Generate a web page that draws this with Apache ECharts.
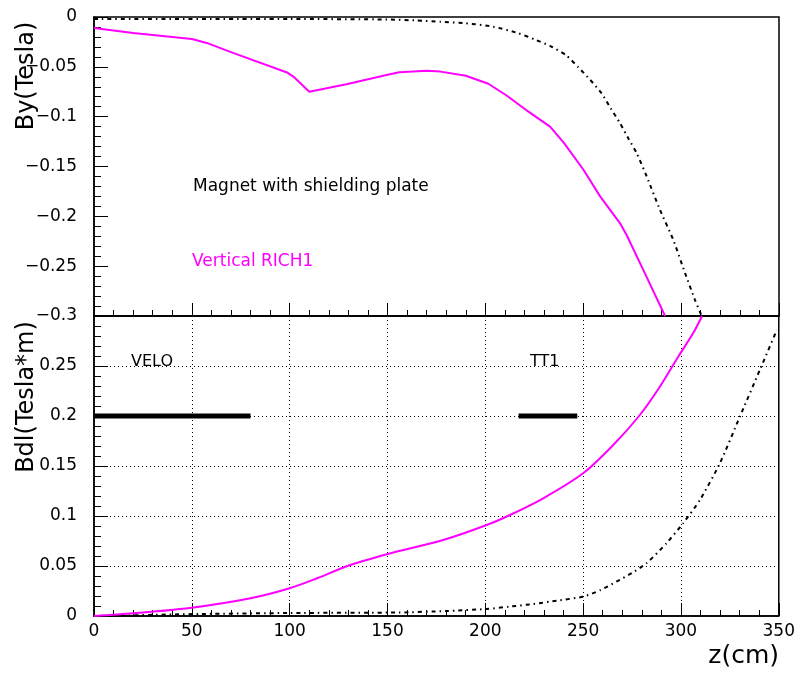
<!DOCTYPE html>
<html>
<head>
<meta charset="utf-8">
<script src="https://cdn.jsdelivr.net/npm/echarts@6/dist/echarts.min.js"></script>
<style>html,body{margin:0;padding:0;background:#fff;}#c{width:798px;height:677px;}</style>
</head>
<body>
<div id="c"></div>
<script>
// ---- data ----
const zTopRich   = [0, 20, 50, 57.6, 71, 99, 102, 110, 129, 150, 156, 170, 177, 190, 201.5, 211, 222, 233, 240, 250, 258.6, 268.8, 272.2, 280.7, 291.8];
const byRich     = [-0.011, -0.016, -0.022, -0.026, -0.036, -0.056, -0.060, -0.075, -0.0675, -0.058, -0.0555, -0.054, -0.0548, -0.059, -0.067, -0.079, -0.095, -0.110, -0.126, -0.153, -0.180, -0.207, -0.219, -0.254, -0.300];
const zTopShield = [0, 100, 150, 165, 177, 190, 204, 217, 225, 233, 241, 247.5, 253.5, 259.4, 264, 268.8, 273, 277.3, 282.4, 289.2, 296, 302, 307.1, 310.5];
const byShield   = [-0.002, -0.002, -0.0025, -0.0035, -0.0047, -0.0063, -0.0097, -0.0164, -0.0224, -0.029, -0.038, -0.0505, -0.063, -0.0766, -0.0916, -0.1067, -0.1217, -0.1367, -0.160, -0.1936, -0.2237, -0.257, -0.284, -0.300];
const zBdlRich   = [0, 20, 50, 80, 100, 114, 131, 156, 178.5, 200.7, 212.6, 229.6, 250, 265.4, 279, 289.2, 298.6, 306.2, 310.8];
const bdlRich    = [0, 0.0027, 0.0083, 0.0177, 0.0277, 0.0377, 0.051, 0.065, 0.076, 0.091, 0.101, 0.1177, 0.1427, 0.171, 0.201, 0.2293, 0.2593, 0.2827, 0.300];
const zBdlShield = [0, 54, 100, 156, 180, 200.7, 212, 224.5, 237, 250, 259, 267, 275, 282.4, 292.6, 301.1, 309.7, 319.9, 330.1, 340.3, 349];
const bdlShield  = [0, 0.002, 0.003, 0.0035, 0.005, 0.007, 0.0093, 0.012, 0.0155, 0.0193, 0.026, 0.0343, 0.043, 0.0527, 0.0727, 0.0927, 0.116, 0.1527, 0.1993, 0.246, 0.286];
const veloRange  = [0, 80];
const tt1Range   = [217, 247];
const detLevel   = 0.2;

const pair = (xs, ys) => xs.map((x, i) => [x, ys[i]]);
const FONT = 'DejaVu Sans';
const MAG = '#ff00ff';

function fmt(v) {
  const r = Math.round(v * 100) / 100;
  if (Math.abs(r) < 1e-9) return '0';
  return String(r).replace('-', '\u2212');
}

function ticks(major, minor) {
  return {
    axisLine: {show: true, onZero: false, lineStyle: {color: '#000', width: 1.5}},
    axisTick: {show: true, inside: true, length: major, lineStyle: {color: '#000', width: 1}},
    minorTick: {show: true, splitNumber: 5, length: minor, lineStyle: {color: '#000', width: 1}}
  };
}
function grid(top, height) {
  return {left: 94, right: 19, top: top, height: height, show: true, borderColor: '#000', borderWidth: 1.5};
}
function dots(col) {
  return {show: true, showMinLine: false, showMaxLine: false, lineStyle: {color: col, type: [1, 3], width: 1}};
}

const chart = echarts.init(document.getElementById('c'));

const option = {
  backgroundColor: '#fff',
  animation: false,
  grid: [grid(17, 299), grid(316, 300)],
  xAxis: [
    Object.assign({type: 'value', gridIndex: 0, min: 0, max: 350, interval: 50, position: 'bottom',
      axisLabel: {show: false}, splitLine: {show: false}}, ticks(13, 6)),
    Object.assign({type: 'value', gridIndex: 1, min: 0, max: 350, interval: 50, position: 'bottom',
      axisLabel: {show: true, color: '#000', fontFamily: FONT, fontSize: 17, margin: 7},
      splitLine: dots('#000')}, ticks(13, 6))
  ],
  yAxis: [
    Object.assign({type: 'value', gridIndex: 0, min: -0.3, max: 0, interval: 0.05, position: 'left',
      axisLabel: {show: true, color: '#000', fontFamily: FONT, fontSize: 17, margin: 17, formatter: fmt},
      splitLine: {show: false}}, ticks(14, 7)),
    Object.assign({type: 'value', gridIndex: 1, min: 0, max: 0.3, interval: 0.05, position: 'left',
      axisLabel: {show: true, color: '#000', fontFamily: FONT, fontSize: 17, margin: 17, formatter: fmt, showMaxLabel: false},
      splitLine: dots('#000')}, ticks(14, 7))
  ],
  series: [
    {type: 'line', xAxisIndex: 0, yAxisIndex: 0, data: pair(zTopShield, byShield), symbol: 'none', smooth: 0.2, clip: true,
      lineStyle: {color: '#000', width: 2, type: [4, 4, 1.5, 4]}},
    {type: 'line', xAxisIndex: 0, yAxisIndex: 0, data: pair(zTopRich, byRich), symbol: 'none', smooth: false, clip: true,
      lineStyle: {color: MAG, width: 2}},
    {type: 'line', xAxisIndex: 1, yAxisIndex: 1, data: pair(zBdlShield, bdlShield), symbol: 'none', smooth: 0.2, clip: true,
      lineStyle: {color: '#000', width: 2, type: [4, 4, 1.5, 4]}},
    {type: 'line', xAxisIndex: 1, yAxisIndex: 1, data: pair(zBdlRich, bdlRich), symbol: 'none', smooth: 0.3, clip: true,
      lineStyle: {color: MAG, width: 2}},
    {type: 'line', xAxisIndex: 1, yAxisIndex: 1, data: veloRange.map(z => [z, detLevel]), symbol: 'none', clip: false,
      lineStyle: {color: '#000', width: 5}},
    {type: 'line', xAxisIndex: 1, yAxisIndex: 1, data: tt1Range.map(z => [z, detLevel]), symbol: 'none', clip: false,
      lineStyle: {color: '#000', width: 5}}
  ],
  graphic: [
    {type: 'text', x: 27, y: 76, rotation: Math.PI / 2, style: {text: 'By(Tesla)', fill: '#000', font: '24px "' + FONT + '"', align: 'center', verticalAlign: 'middle'}},
    {type: 'text', x: 27, y: 397, rotation: Math.PI / 2, style: {text: 'Bdl(Tesla*m)', fill: '#000', font: '24px "' + FONT + '"', align: 'center', verticalAlign: 'middle'}},
    {type: 'text', x: 779, y: 656, style: {text: 'z(cm)', fill: '#000', font: '25px "' + FONT + '"', align: 'right', verticalAlign: 'middle'}},
    {type: 'text', x: 193, y: 187, style: {text: 'Magnet with shielding plate', fill: '#000', font: '17px "' + FONT + '"', align: 'left', verticalAlign: 'middle'}},
    {type: 'text', x: 192, y: 262, style: {text: 'Vertical RICH1', fill: MAG, font: '17px "' + FONT + '"', align: 'left', verticalAlign: 'middle'}},
    {type: 'text', x: 131, y: 362, style: {text: 'VELO', fill: '#000', font: '16px "' + FONT + '"', align: 'left', verticalAlign: 'middle'}},
    {type: 'text', x: 530, y: 362, style: {text: 'TT1', fill: '#000', font: '16px "' + FONT + '"', align: 'left', verticalAlign: 'middle'}}
  ]
};
chart.setOption(option);
</script>
</body>
</html>
